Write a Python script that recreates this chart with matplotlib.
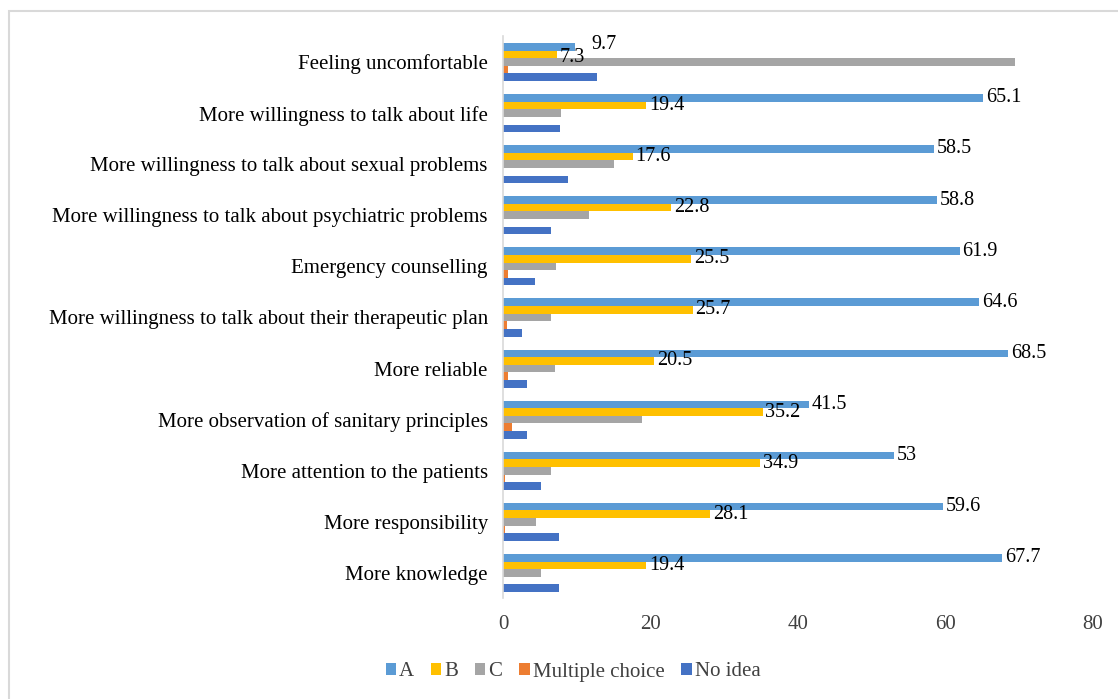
import matplotlib
matplotlib.use("Agg")
import matplotlib.pyplot as plt
import numpy as np
from matplotlib.patches import Rectangle

categories = [
    "More knowledge",
    "More responsibility",
    "More attention to the patients",
    "More observation of sanitary principles",
    "More reliable",
    "More willingness to talk about their therapeutic plan",
    "Emergency counselling",
    "More willingness to talk about psychiatric problems",
    "More willingness to talk about sexual problems",
    "More willingness to talk about life",
    "Feeling uncomfortable",
]
series_names = ["A", "B", "C", "Multiple choice", "No idea"]
A = [67.7, 59.6, 53, 41.5, 68.5, 64.6, 61.9, 58.8, 58.5, 65.1, 9.7]
B = [19.4, 28.1, 34.9, 35.2, 20.5, 25.7, 25.5, 22.8, 17.6, 19.4, 7.3]
C = [5.1, 4.4, 6.5, 18.9, 7.0, 6.5, 7.2, 11.7, 15.0, 7.9, 69.4]
MC = [0.0, 0.3, 0.3, 1.25, 0.7, 0.5, 0.7, 0.0, 0.0, 0.0, 0.7]
NoIdea = [7.6, 7.6, 5.1, 3.2, 3.2, 2.5, 4.3, 6.5, 8.8, 7.7, 12.7]
labeled = ["A", "B"]

colors = ["#5B9BD5", "#FFC000", "#A5A5A5", "#ED7D31", "#4472C4"]

plt.rcParams["font.family"] = ["Liberation Serif", "DejaVu Serif"]
FS = 15

fig = plt.figure(figsize=(11.18, 6.99), dpi=100)
ax = fig.add_axes([0.45, 0.1438, 0.5276, 0.8040])

# chart border
fig.patches.append(Rectangle((9 / 1118, 1 - 11 / 699 - 2), 2, 2, transform=fig.transFigure,
                             fill=False, edgecolor="#D9D9D9", linewidth=1.5))

y = np.arange(len(categories))
h = 0.149
offsets = [2 * h, h, 0, -h, -2 * h]
data = [A, B, C, MC, NoIdea]
label_texts = {}
for name, vals, off, col in zip(series_names, data, offsets, colors):
    bars = ax.barh(y + off, vals, height=h, color=col, label=name, linewidth=0)
    if name in labeled:
        label_texts[name] = ax.bar_label(bars, labels=[f"{v:g}" for v in vals], padding=2,
                                         fontsize=14.5, color="#000000")

# nudge A labels that would collide with the B label just below
for i, (a, b) in enumerate(zip(A, B)):
    if abs(a - b) < 5:
        label_texts["A"][i].xyann = (12, 2)
        label_texts["B"][i].xyann = (2, -2)

ax.set_xlim(0, 80)
ax.set_ylim(-0.5, len(categories) - 0.5)
ax.set_xticks([0, 20, 40, 60, 80])
ax.set_yticks(y)
ax.set_yticklabels(categories, fontsize=FS, color="#000000")
ax.tick_params(axis="x", labelsize=FS, colors="#404040", length=0, pad=12)
ax.tick_params(axis="y", length=0, pad=11)
for s in ["top", "right", "bottom"]:
    ax.spines[s].set_visible(False)
ax.spines["left"].set_color("#D9D9D9")
ax.spines["left"].set_linewidth(1.2)

handles, labels = ax.get_legend_handles_labels()
leg = fig.legend(handles, labels, loc="center", bbox_to_anchor=(573 / 1118, 1 - 672 / 699),
                 ncol=5, frameon=False, fontsize=FS, handlelength=0.5, handleheight=0.5,
                 handletextpad=0.15, columnspacing=0.8)
for t in leg.get_texts():
    t.set_color("#404040")

fig.savefig("out.png", dpi=100)
